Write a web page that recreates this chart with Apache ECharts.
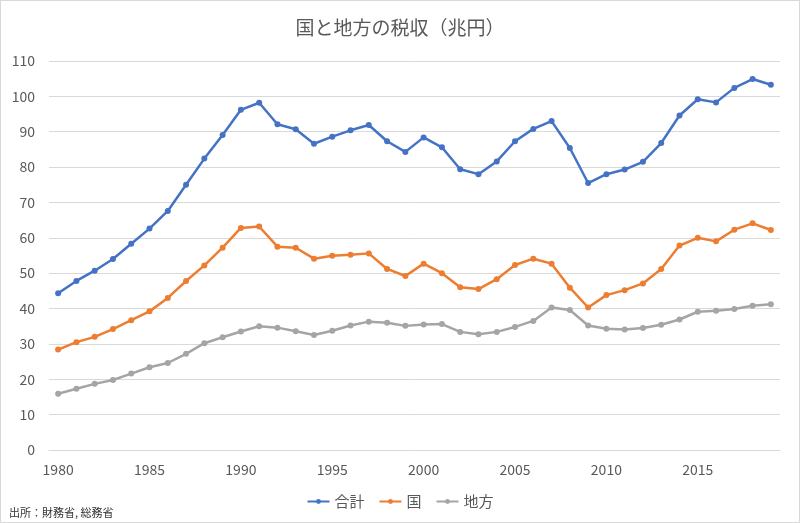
<!DOCTYPE html>
<html><head><meta charset="utf-8">
<script src="https://cdn.jsdelivr.net/npm/echarts@6/dist/echarts.min.js"></script>
<style>html,body{margin:0;padding:0;background:#fff}#c{width:800px;height:523px;box-sizing:border-box;border:1px solid #d9d9d9}</style>
</head><body><div id="c"></div>
<script>
const years = [];
for (let y = 1980; y <= 2019; y++) years.push(String(y));
const total = [44.3,47.8,50.7,54.0,58.3,62.6,67.6,75.0,82.4,89.1,96.2,98.2,92.1,90.7,86.6,88.6,90.4,91.9,87.3,84.3,88.4,85.6,79.4,78.0,81.6,87.3,90.8,93.0,85.4,75.5,78.0,79.3,81.5,86.8,94.6,99.2,98.3,102.4,104.9,103.3];
const national = [28.4,30.5,32.0,34.2,36.7,39.2,43.0,47.8,52.2,57.2,62.8,63.2,57.5,57.2,54.1,54.9,55.2,55.6,51.2,49.2,52.7,50.0,46.0,45.5,48.3,52.3,54.1,52.7,45.9,40.3,43.8,45.2,47.1,51.2,57.8,60.0,59.0,62.3,64.1,62.2];
const local = [15.9,17.3,18.7,19.8,21.6,23.4,24.6,27.2,30.2,31.9,33.5,35.0,34.6,33.6,32.5,33.7,35.2,36.3,36.0,35.1,35.5,35.6,33.4,32.7,33.4,34.8,36.5,40.3,39.6,35.2,34.3,34.1,34.5,35.4,36.9,39.1,39.4,39.9,40.8,41.2];
const seriesNames = ['合計','国','地方'];
const colors = ['#4472C4','#ED7D31','#A5A5A5'];
const font = '"Noto Sans CJK JP", "Noto Sans", sans-serif';
const chart = echarts.init(document.getElementById('c'));
function mk(name, data, color) {
  return {name, type:'line', data, color, symbol:'circle', symbolSize:6,
    lineStyle:{width:2.5, color}, itemStyle:{color}, emphasis:{disabled:true}};
}
chart.setOption({
  animation:false,
  textStyle:{fontFamily:font},
  title:{text:'国と地方の税収（兆円）', left:'center', top:12,
    textStyle:{fontFamily:font, fontSize:19, fontWeight:'normal', color:'#595959'}},
  legend:{bottom:8, left:'center', itemWidth:22, itemHeight:6, itemGap:14,
    data:seriesNames, textStyle:{fontFamily:font, fontSize:15, color:'#595959'}},
  graphic:[{type:'text', left:8, top:506, style:{text:'出所：財務省, 総務省', font:'11px "Noto Sans CJK JP", sans-serif', fill:'#333'}}],
  grid:{left:48, right:19, top:60, bottom:72},
  xAxis:{type:'category', data:years, boundaryGap:true,
    axisTick:{show:false}, axisLine:{lineStyle:{color:'#d9d9d9'}},
    axisLabel:{interval:4, color:'#595959', fontSize:14, margin:13, fontFamily:font}},
  yAxis:{type:'value', min:0, max:110, interval:10,
    axisLabel:{color:'#595959', fontSize:14, margin:14, fontFamily:font},
    splitLine:{lineStyle:{color:'#d9d9d9', width:1}}},
  series:[mk(seriesNames[0], total, colors[0]), mk(seriesNames[1], national, colors[1]), mk(seriesNames[2], local, colors[2])]
});
</script></body></html>
